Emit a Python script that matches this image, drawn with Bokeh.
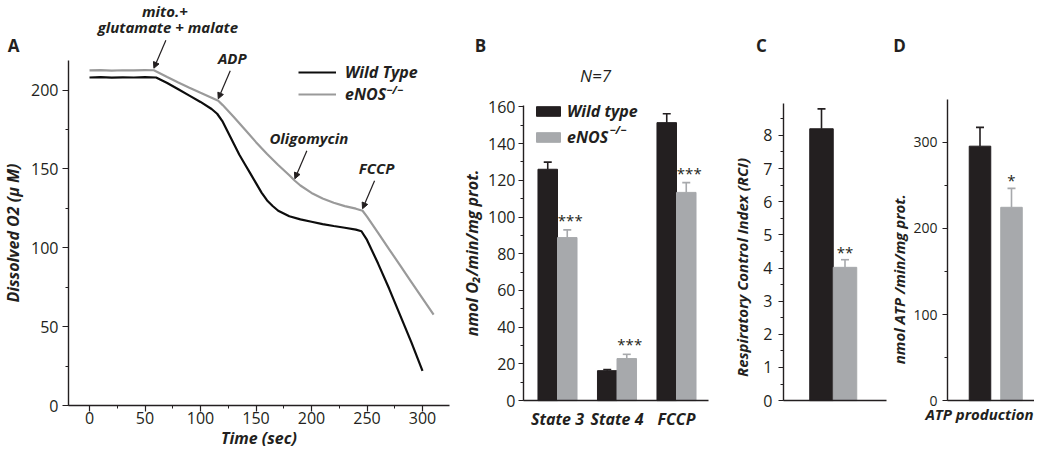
import numpy as np
from bokeh.plotting import figure
from bokeh.layouts import row
from bokeh.models import (ColumnDataSource, Range1d, SingleIntervalTicker, FixedTicker,
                          Legend, LegendItem, Label, LabelSet, Arrow, NormalHead,
                          Whisker, TeeHead)
from bokeh.core.properties import value
from bokeh.embed import file_html
from bokeh.resources import INLINE

# ---------------- data ----------------
# Panel A: oxygen traces
wt_time = [0, 10, 20, 30, 40, 50, 60, 70, 80, 90, 100, 110, 115, 120, 125, 130, 135, 140,
           145, 150, 155, 160, 165, 170, 180, 190, 200, 210, 220, 230, 240, 245, 250, 260,
           270, 280, 290, 300]
wt_o2 = [208, 208.2, 207.9, 208.1, 208, 208.2, 208, 204.5, 200.5, 196.5, 192.5, 188, 185, 180,
         173, 166, 159, 153, 147, 141, 135, 130, 126.5, 123.5, 120, 118, 116.5, 115, 113.8,
         112.7, 111.5, 110.5, 105, 90, 74, 57, 40, 22]
ko_time = [0, 10, 20, 30, 40, 50, 58, 70, 80, 90, 100, 110, 116, 120, 130, 140, 150, 160, 170,
           180, 185, 190, 200, 210, 220, 230, 240, 246, 250, 260, 270, 280, 290, 300, 310]
ko_o2 = [212.5, 212.7, 212.4, 212.6, 212.5, 212.7, 212.6, 208.3, 204.8, 201.5, 198.3, 195.2,
         193.2, 190.5, 183, 175, 167, 159.5, 152.5, 146, 142.5, 139.5, 134.8, 131.3, 128.6,
         126.4, 124.8, 123.5, 119.8, 109.5, 99, 88.7, 78.3, 68, 57.6]
series_names = ["Wild Type", "eNOS"]
event_labels = ["glutamate + malate", "ADP", "Oligomycin", "FCCP"]
event_times = [58, 116, 185, 246]

# Panel B: respiration rates
conditions = ["State 3", "State 4", "FCCP"]
wt_rate = [126.0, 16.3, 151.4]
wt_rate_err = [3.9, 0.6, 4.8]
ko_rate = [88.8, 22.9, 113.4]
ko_rate_err = [4.2, 2.3, 5.3]
rate_sig = ["***", "***", "***"]

# Panel C: respiratory control index
rci = [8.2, 4.02]
rci_err = [0.6, 0.23]
rci_sig = ["**"]

# Panel D: ATP production
atp = [295.5, 224.5]
atp_err = [21.8, 22.0]
atp_sig = ["*"]

# ---------------- style ----------------
FONT = "Open Sans"
INK = "#231f20"
DARK = "#231f20"
LIGHT = "#a7a9ac"
LINE_DARK = "#0d0d0d"
LINE_LIGHT = "#9a9a9a"
H = 450


def panel(width, ax_x, ax_y, x0, sx, x1, sy, y1):
    """Frame covers the whole canvas; axes are pinned at (x0, 0) with bounds."""
    xr = (x0 - ax_x / sx, x0 + (width - ax_x) / sx)
    yr = (-(H - ax_y) / sy, ax_y / sy)
    p = figure(width=width, height=H, x_range=Range1d(*xr), y_range=Range1d(*yr),
               output_backend="svg", toolbar_location=None,
               min_border_left=0, min_border_right=0, min_border_top=0, min_border_bottom=0)
    p.outline_line_color = None
    p.xgrid.visible = False
    p.ygrid.visible = False
    p.background_fill_color = "white"
    p.border_fill_color = "white"
    p.xaxis[0].fixed_location = 0
    p.yaxis[0].fixed_location = x0
    p.xaxis[0].bounds = (x0, x1)
    p.yaxis[0].bounds = (0, y1)
    for ax in (p.xaxis[0], p.yaxis[0]):
        ax.axis_line_color = INK
        ax.axis_line_width = 1.4
        ax.major_tick_line_color = INK
        ax.minor_tick_line_color = INK
        ax.major_tick_line_width = 1.2
        ax.minor_tick_line_width = 1.0
        ax.major_tick_in = 0
        ax.minor_tick_in = 0
        ax.major_tick_out = 5
        ax.minor_tick_out = 3
        ax.major_label_text_font = FONT
        ax.major_label_text_font_size = "16px"
        ax.major_label_text_color = INK
        ax.axis_label_text_font = FONT
        ax.axis_label_text_font_style = "bold italic"
        ax.axis_label_text_font_size = "16px"
        ax.axis_label_text_color = INK
    return p


def text_label(p, x, y, txt, size="15px", style="bold italic", align="center", angle=0.0,
               baseline="middle", xo=0, yo=0):
    p.add_layout(Label(x=x, y=y, x_offset=xo, y_offset=yo, text=txt, text_font=FONT,
                       text_font_style=style, text_font_size=size, text_color=INK,
                       text_align=align, text_baseline=baseline, angle=angle))


def add_err(p, xs, tops, errs, color, size=8):
    src = ColumnDataSource(dict(x=list(xs), lower=list(tops),
                                upper=[t + e for t, e in zip(tops, errs)]))
    p.add_layout(Whisker(base="x", lower="lower", upper="upper", source=src,
                         dimension="height", line_color=color, line_width=1.6,
                         lower_head=None,
                         upper_head=TeeHead(size=size, line_color=color, line_width=1.6)))


def add_sig(p, xs, ys, texts, y_off, x_off=0, size="15px"):
    src = ColumnDataSource(dict(x=list(xs), y=list(ys), text=list(texts)))
    p.add_layout(LabelSet(x="x", y="y", text="text", source=src, x_offset=x_off,
                          y_offset=y_off, text_align="center", text_baseline="alphabetic",
                          text_font=value(FONT), text_font_size=value(size),
                          text_color=INK))


# ---------------- Panel A ----------------
A_SX, A_SY = 1.11, 1.577
pA = panel(458, 68, 405, -18.92, A_SX, 324.3, A_SY, 218.8)
pA.xaxis[0].ticker = SingleIntervalTicker(interval=50, num_minor_ticks=2)
pA.yaxis[0].ticker = SingleIntervalTicker(interval=50, num_minor_ticks=2)
pA.xaxis[0].major_tick_out = 6
pA.yaxis[0].major_tick_out = 6
pA.xaxis.axis_label = "Time (sec)"
pA.yaxis.axis_label = "Dissolved O2 (\u00b5 M)"
pA.yaxis.major_label_standoff = 4
pA.yaxis.axis_label_standoff = 4
pA.xaxis.major_label_standoff = 0
pA.xaxis.axis_label_standoff = 0

r_wt = pA.line(wt_time, wt_o2, line_color=LINE_DARK, line_width=2.2)
r_ko = pA.line(ko_time, ko_o2, line_color=LINE_LIGHT, line_width=2.2)

legA = Legend(items=[LegendItem(label=series_names[0], renderers=[r_wt]),
                     LegendItem(label=series_names[1], renderers=[r_ko])],
              location=(298, 345.5), glyph_width=38, glyph_height=20, label_height=20,
              spacing=0, padding=0, margin=0, label_standoff=9,
              border_line_color=None, background_fill_alpha=0,
              label_text_font=FONT, label_text_font_style="bold italic",
              label_text_font_size="16px", label_text_color=INK)
pA.add_layout(legA)
text_label(pA, 267.3, 200.1, "\u2212/\u2212", size="11px", align="left")

ev_t = np.array(event_times, dtype=float)
ev_y = np.interp(ev_t, ko_time, ko_o2) + 2.0 / A_SY
arrow_src = ColumnDataSource(dict(xs=ev_t + 12.0 / A_SX, ys=ev_y + 28.0 / A_SY,
                                  xe=ev_t, ye=ev_y))
pA.add_layout(Arrow(end=NormalHead(size=6, fill_color=INK, line_color=INK, line_width=1),
                    x_start="xs", y_start="ys", x_end="xe", y_end="ye",
                    source=arrow_src, line_color=INK, line_width=1.2))
ev_src = ColumnDataSource(dict(x=ev_t, y=ev_y, text=event_labels))
pA.add_layout(LabelSet(x="x", y="y", text="text", source=ev_src, x_offset=14, y_offset=41,
                       text_align="center", text_baseline="middle",
                       text_font=value(FONT), text_font_style="bold italic",
                       text_font_size=value("15px"), text_color=INK))
text_label(pA, ev_t[0], ev_y[0], "mito.+", xo=11, yo=57)
text_label(pA, -68.47, 228.2, "A", size="17px", style="bold")

# ---------------- Panel B ----------------
B_X0, B_SX, B_SY = 1 - 34 / 59.5, 59.5, 1.836
pB = panel(262, 65, 400.1, B_X0, B_SX, B_X0 + 185 / B_SX, B_SY, 161.0)
pB.yaxis[0].ticker = SingleIntervalTicker(interval=20, num_minor_ticks=2)
pB.yaxis.major_label_standoff = 3
pB.yaxis.axis_label = "nmol O\u2082/min/mg prot."
pB.yaxis.axis_label_standoff = 2
groups = np.arange(1, len(conditions) + 1)
pB.xaxis[0].ticker = FixedTicker(ticks=list(groups))
pB.xaxis[0].major_label_overrides = {int(g): c for g, c in zip(groups, conditions)}
pB.xaxis[0].major_tick_out = 0
pB.xaxis[0].minor_tick_out = 0
pB.xaxis[0].major_label_standoff = 7
pB.xaxis[0].major_label_text_font_style = "bold italic"
pB.xaxis[0].major_label_text_font_size = "16px"

bw = 0.328
wt_x = groups - bw / 2
ko_x = groups + bw / 2
rb_wt = pB.vbar(x=wt_x, top=wt_rate, width=bw, fill_color=DARK, line_color=DARK)
rb_ko = pB.vbar(x=ko_x, top=ko_rate, width=bw, fill_color=LIGHT, line_color=LIGHT)
add_err(pB, wt_x, wt_rate, wt_rate_err, DARK)
add_err(pB, ko_x, ko_rate, ko_rate_err, LIGHT)
add_sig(pB, ko_x, [t + e for t, e in zip(ko_rate, ko_rate_err)], rate_sig, y_off=4, x_off=3)

legB = Legend(items=[LegendItem(label="Wild type", renderers=[rb_wt]),
                     LegendItem(label="eNOS", renderers=[rb_ko])],
              location=(75, 302.5), glyph_width=30, glyph_height=12, label_height=20,
              spacing=4, padding=0, margin=0, label_standoff=4,
              border_line_color=None, background_fill_alpha=0,
              label_text_font=FONT, label_text_font_style="bold italic",
              label_text_font_size="16px", label_text_color=INK)
pB.add_layout(legB)
text_label(pB, 1.874, 147.4, "\u2212/\u2212", size="11px", align="left")
text_label(pB, 1.6387, 177.2, "N=7", size="17px", style="italic")
text_label(pB, -0.2941, 193.3, "B", size="17px", style="bold")

# ---------------- Panel C ----------------
C_X0, C_SX, C_SY = -0.617, 23.5, 33.15
pC = panel(167, 63, 400.1, C_X0, C_SX, 3.766, C_SY, 8.95)
pC.yaxis[0].ticker = SingleIntervalTicker(interval=1, num_minor_ticks=2)
pC.yaxis.major_label_standoff = 6
pC.xaxis[0].ticker = FixedTicker(ticks=[])
pC.xaxis[0].major_tick_out = 0
pC.xaxis[0].minor_tick_out = 0
gx = [1, 2]
pC.vbar(x=gx[:1], top=rci[:1], width=1.0, fill_color=DARK, line_color=DARK)
pC.vbar(x=gx[1:], top=rci[1:], width=1.0, fill_color=LIGHT, line_color=LIGHT)
add_err(pC, gx[:1], rci[:1], rci_err[:1], DARK)
add_err(pC, gx[1:], rci[1:], rci_err[1:], LIGHT)
add_sig(pC, gx[1:], [rci[1] + rci_err[1]], rci_sig, y_off=2)
text_label(pC, -2.404, 4.015, "Respiratory Control Index (RCI)", angle=np.pi / 2)
text_label(pC, -1.553, 10.706, "C", size="17px", style="bold")

# ---------------- Panel D ----------------
D_X0, D_SX, D_SY = -0.0317, 31.5, 0.861
pD = panel(147, 60, 400.1, D_X0, D_SX, D_X0 + 87 / 31.5, D_SY, 349.2)
pD.yaxis[0].ticker = SingleIntervalTicker(interval=100, num_minor_ticks=2)
pD.yaxis.major_label_standoff = 5
pD.yaxis.major_label_text_font_size = "14px"
pD.xaxis[0].ticker = FixedTicker(ticks=[])
pD.xaxis[0].major_tick_out = 0
pD.xaxis[0].minor_tick_out = 0
dw = 0.683
pD.vbar(x=gx[:1], top=atp[:1], width=dw, fill_color=DARK, line_color=DARK)
pD.vbar(x=gx[1:], top=atp[1:], width=dw, fill_color=LIGHT, line_color=LIGHT)
add_err(pD, gx[:1], atp[:1], atp_err[:1], DARK)
add_err(pD, gx[1:], atp[1:], atp_err[1:], LIGHT)
add_sig(pD, gx[1:], [atp[1] + atp_err[1]], atp_sig, y_off=2)
text_label(pD, -1.587, 140.9, "nmol ATP /min/mg prot.", angle=np.pi / 2)
text_label(pD, -1.5555, 412.2, "D", size="17px", style="bold")
text_label(pD, 2.698, -16.0, "ATP production", size="15px", align="right")

layout = row(pA, pB, pC, pD)
open("out.html", "w").write(file_html(layout, INLINE))
